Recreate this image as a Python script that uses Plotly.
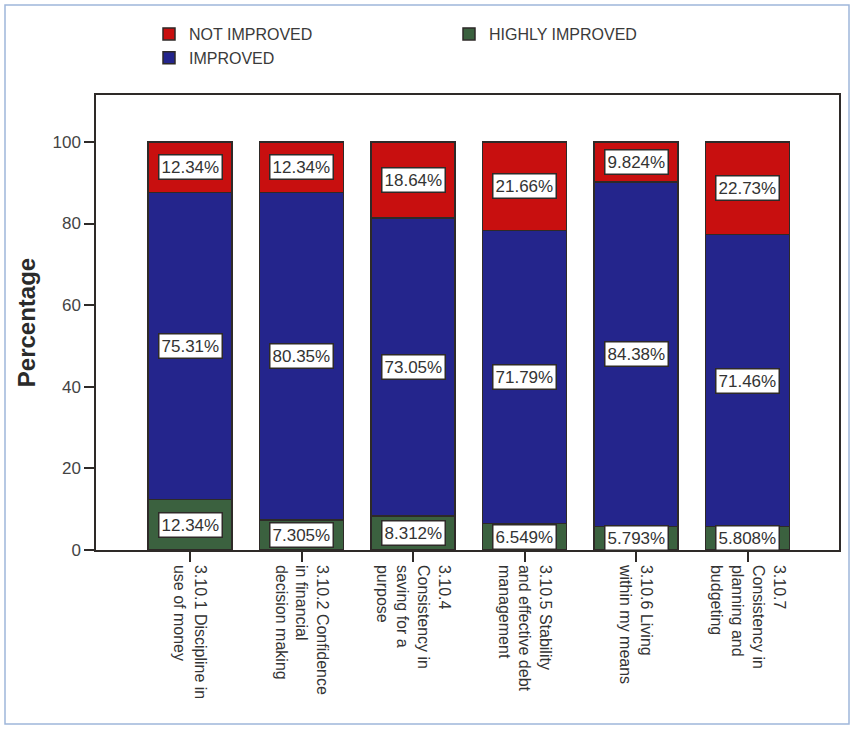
import plotly.graph_objects as go

# Survey items (x categories)
categories = [
    "3.10.1 Discipline in<br>use of money",
    "3.10.2 Confidence<br>in financial<br>decision making",
    "3.10.4<br>Consistency in<br>saving for a<br>purpose",
    "3.10.5 Stability<br>and effective debt<br>management",
    "3.10.6 Living<br>within my means",
    "3.10.7<br>Consistency in<br>planning and<br>budgeting",
]

# Percentage of respondents per response level
highly_improved = [12.34, 7.305, 8.312, 6.549, 5.793, 5.808]
improved = [75.31, 80.35, 73.05, 71.79, 84.38, 71.46]
not_improved = [12.34, 12.34, 18.64, 21.66, 9.824, 22.73]

y_ticks = [0, 20, 40, 60, 80, 100]

# Layout geometry (pixels)
W, H = 854, 729
M_L, M_R, M_T, M_B = 96, 15, 95, 179
PW, PH = W - M_L - M_R, H - M_T - M_B

FONT = "Liberation Sans, Arial, sans-serif"
EDGE = "#2e2a28"
RED, BLUE, GREEN = "#C80F0F", "#24258C", "#3B613F"


def px_x(px):
    return (px - M_L) / PW


def px_y(py):
    return (H - M_B - py) / PH


fig = go.Figure()

series = [
    ("HIGHLY IMPROVED", highly_improved, GREEN, "legend2", 3),
    ("IMPROVED", improved, BLUE, "legend", 2),
    ("NOT IMPROVED", not_improved, RED, "legend", 1),
]
for name, vals, color, leg, rank in series:
    fig.add_trace(go.Bar(
        x=categories, y=vals, name=name,
        marker=dict(color=color, line=dict(color=EDGE, width=1.5)),
        legend=leg, legendrank=rank,
        hovertemplate="%{y:.4g}%<extra>" + name + "</extra>",
    ))

# Boxed value labels centred in each stacked segment
for i, cat in enumerate(categories):
    base = 0.0
    for vals in (highly_improved, improved, not_improved):
        v = vals[i]
        fig.add_annotation(
            x=cat, y=base + v / 2, xref="x", yref="y",
            text=f"{v:.4g}%", showarrow=False,
            font=dict(family=FONT, size=17, color="#333333"),
            bgcolor="white", bordercolor=EDGE, borderwidth=1.5, borderpad=2,
        )
        base += v

# Light outer frame around the whole chart
fig.add_shape(
    type="rect", xref="paper", yref="paper",
    x0=px_x(5), x1=px_x(849), y0=px_y(724), y1=px_y(5),
    line=dict(color="#9FB6DA", width=1.5), fillcolor="rgba(0,0,0,0)",
    layer="below",
)

legend_common = dict(
    orientation="v", xanchor="left", yanchor="top",
    font=dict(family=FONT, size=16, color="#3a3a3a"),
    bgcolor="rgba(0,0,0,0)", traceorder="normal",
    itemwidth=30, tracegroupgap=0,
)

fig.update_layout(
    width=W, height=H,
    margin=dict(l=M_L, r=M_R, t=M_T, b=M_B),
    paper_bgcolor="white", plot_bgcolor="white",
    barmode="stack", bargap=0.245,
    showlegend=True,
    legend=dict(x=px_x(149), y=px_y(17), **legend_common),
    legend2=dict(x=px_x(449), y=px_y(17), **legend_common),
    font=dict(family=FONT, color="#333333"),
    xaxis=dict(
        type="category", range=[-0.843, 5.82],
        showline=True, linecolor=EDGE, linewidth=1.5, mirror=True,
        ticks="outside", ticklen=10, tickcolor=EDGE, tickwidth=1.5,
        tickangle=90, tickfont=dict(family=FONT, size=16, color="#333333"),
        showgrid=False, zeroline=False,
    ),
    yaxis=dict(
        range=[0, 111.5], tickvals=y_ticks,
        showline=True, linecolor=EDGE, linewidth=1.5, mirror=True,
        ticks="outside", ticklen=10, tickcolor=EDGE, tickwidth=1.5,
        tickfont=dict(family=FONT, size=17, color="#444444"),
        showgrid=False, zeroline=False,
        title=dict(text="<b>Percentage</b>", standoff=10,
                   font=dict(family=FONT, size=24, color="#2b2b2b")),
    ),
)

fig.write_html("out.html")
